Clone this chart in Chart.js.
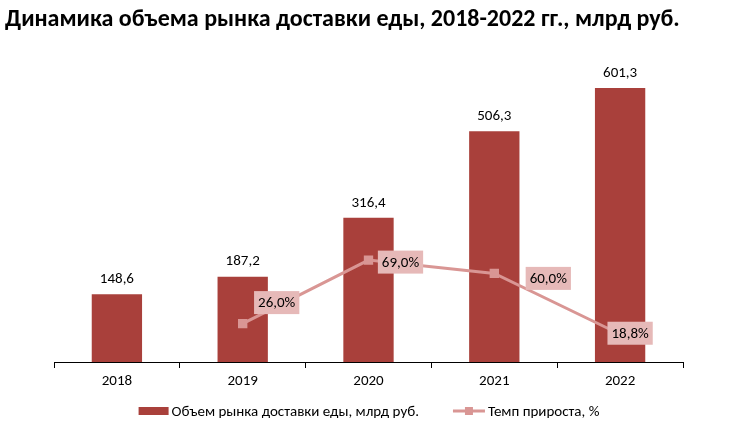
<!DOCTYPE html>
<html lang="ru">
<head>
    <meta charset="UTF-8">
    <title>Динамика объема рынка доставки еды</title>
    <script src="https://cdn.jsdelivr.net/npm/chart.js"></script>
    <style>
        html, body { margin: 0; padding: 0; background: #fff; }
        .chartBox { width: 733px; height: 425px; position: relative; }
    </style>
</head>
<body>
<div class="chartBox">
    <canvas id="foodChart"></canvas>
</div>
<script>
    // data
    var years = ['2018', '2019', '2020', '2021', '2022'];
    var marketVolume = [148.6, 187.2, 316.4, 506.3, 601.3];
    var growthRate = [null, 26.0, 69.0, 60.0, 18.8];

    var titleText = 'Динамика объема рынка доставки еды, 2018-2022 гг., млрд руб.';
    var volumeLabel = 'Объем рынка доставки еды, млрд руб.';
    var growthLabel = 'Темп прироста, %';

    var barColor = 'rgb(169, 64, 59)';
    var lineColor = 'rgb(217, 150, 148)';
    var boxColor = 'rgb(230, 185, 184)';
    var fontName = "Carlito, Calibri, 'Liberation Sans', sans-serif";

    // where each % label box sits relative to its point (dx, dy)
    var growthLabelShift = [null, [34, -21], [32, 2], [54, 5], [10, -1]];

    function fmt(v, digits) {
        return v.toFixed(digits).replace('.', ',');
    }

    var labelPlugin = {
        id: 'labelPlugin',
        afterDatasetsDraw: function (chart) {
            var ctx = chart.ctx;
            ctx.save();
            ctx.font = '15px ' + fontName;
            ctx.textAlign = 'center';
            ctx.textBaseline = 'middle';

            // values above the bars
            chart.getDatasetMeta(0).data.forEach(function (bar, i) {
                ctx.fillStyle = '#000';
                ctx.fillText(fmt(marketVolume[i], 1), bar.x, bar.y - 15);
            });

            // % labels in pink boxes
            chart.getDatasetMeta(1).data.forEach(function (pt, i) {
                if (growthRate[i] === null) return;
                var s = growthLabelShift[i];
                var txt = fmt(growthRate[i], 1) + '%';
                var w = ctx.measureText(txt).width + 8;
                var h = 23;
                var cx = pt.x + s[0], cy = pt.y + s[1];
                ctx.fillStyle = boxColor;
                ctx.fillRect(cx - w / 2, cy - h / 2, w, h);
                ctx.fillStyle = '#000';
                ctx.fillText(txt, cx, cy + 1);
            });
            ctx.restore();
        },
        afterDraw: function (chart) {
            var ctx = chart.ctx;
            ctx.save();

            // title
            var size = 25;
            ctx.font = 'bold ' + size + 'px ' + fontName;
            while (ctx.measureText(titleText).width > 680 && size > 10) {
                size -= 0.5;
                ctx.font = 'bold ' + size + 'px ' + fontName;
            }
            ctx.fillStyle = '#000';
            ctx.textAlign = 'left';
            ctx.textBaseline = 'middle';
            ctx.fillText(titleText, 5, 20);

            // legend
            ctx.font = '15px ' + fontName;
            var w1 = ctx.measureText(volumeLabel).width;
            var w2 = ctx.measureText(growthLabel).width;
            var total = 30 + 3 + w1 + 34 + 32 + 3 + w2;
            var x = 369 - total / 2;
            var y = 411;
            ctx.fillStyle = barColor;
            ctx.fillRect(x, y - 4, 30, 8);
            x += 33;
            ctx.fillStyle = '#000';
            ctx.fillText(volumeLabel, x, y + 1);
            x += w1 + 34;
            ctx.strokeStyle = lineColor;
            ctx.lineWidth = 3;
            ctx.beginPath();
            ctx.moveTo(x, y);
            ctx.lineTo(x + 32, y);
            ctx.stroke();
            ctx.fillStyle = lineColor;
            ctx.fillRect(x + 12, y - 4, 8, 8);
            x += 35;
            ctx.fillStyle = '#000';
            ctx.fillText(growthLabel, x, y + 1);
            ctx.restore();
        }
    };

    var ctx = document.getElementById('foodChart').getContext('2d');
    var foodChart = new Chart(ctx, {
        data: {
            labels: years,
            datasets: [{
                type: 'bar',
                label: volumeLabel,
                data: marketVolume,
                backgroundColor: barColor,
                barPercentage: 0.4,
                categoryPercentage: 1.0,
                yAxisID: 'y',
                order: 2
            }, {
                type: 'line',
                label: growthLabel,
                data: growthRate,
                borderColor: lineColor,
                backgroundColor: lineColor,
                borderWidth: 3,
                pointStyle: 'rect',
                pointRadius: 4.5,
                pointHoverRadius: 4.5,
                yAxisID: 'y2',
                order: 1
            }]
        },
        options: {
            responsive: true,
            maintainAspectRatio: false,
            animation: false,
            layout: {
                padding: { top: 43, left: 54, right: 50, bottom: 31 }
            },
            scales: {
                x: {
                    offset: true,
                    grid: {
                        offset: true,
                        drawOnChartArea: false,
                        drawTicks: true,
                        tickLength: 6,
                        color: '#000'
                    },
                    border: { display: true, color: '#000', width: 1 },
                    ticks: {
                        color: '#000',
                        font: { family: fontName, size: 15 },
                        padding: 4
                    }
                },
                y: {
                    display: false,
                    min: 0,
                    max: 700
                },
                y2: {
                    display: false,
                    min: 0,
                    max: 216
                }
            },
            plugins: {
                title: { display: false },
                tooltip: { enabled: false },
                legend: { display: false }
            }
        },
        plugins: [labelPlugin]
    });
</script>
</body>
</html>
